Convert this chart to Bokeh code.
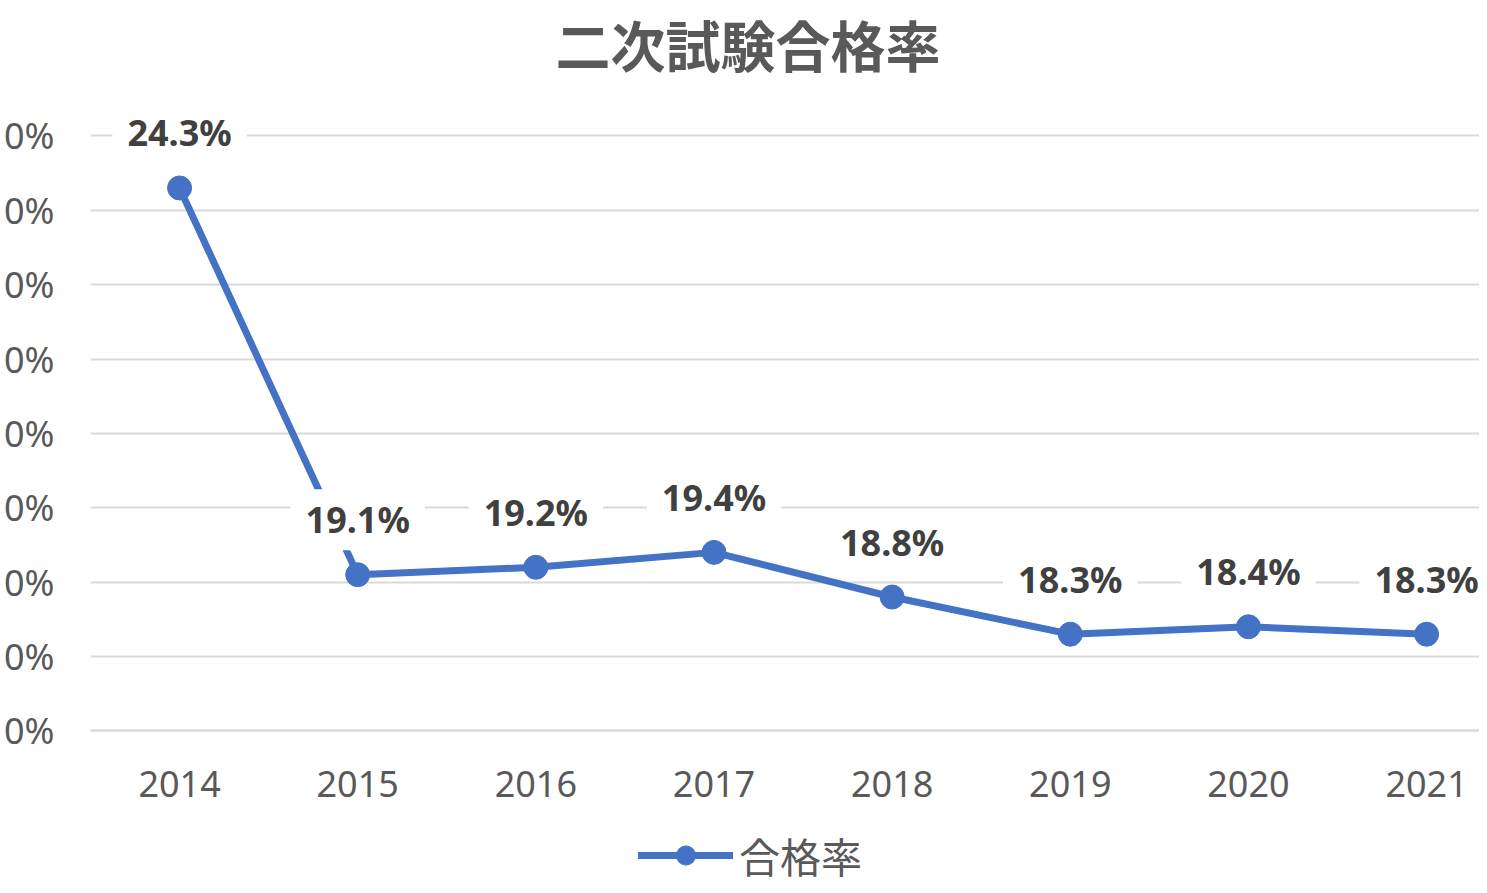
from bokeh.plotting import figure
from bokeh.models import Range1d, FixedTicker, Legend, LegendItem, Label
from bokeh.embed import file_html
from bokeh.resources import INLINE

# ---- data ----
years = ["2014", "2015", "2016", "2017", "2018", "2019", "2020", "2021"]
rates = [24.3, 19.1, 19.2, 19.4, 18.8, 18.3, 18.4, 18.3]
rate_labels = ["24.3%", "19.1%", "19.2%", "19.4%", "18.8%", "18.3%", "18.4%", "18.3%"]
y_ticks = [17, 18, 19, 20, 21, 22, 23, 24, 25]
y_tick_labels = ["0%", "0%", "0%", "0%", "0%", "0%", "0%", "0%", "0%"]
title_text = "二次試験合格率"
series_name = "合格率"

BLUE = "#4472C4"
GRAY = "#595959"
GRID = "#D9D9D9"
LATIN = "Noto Sans"
CJK = "Liberation Sans, Noto Sans CJK JP"

xs = list(range(len(years)))

p = figure(width=1479, height=885, output_backend="svg", toolbar_location=None,
           x_range=Range1d(-0.5, 7.297), y_range=Range1d(14.921, 25.5835),
           min_border_left=82, min_border_right=0, min_border_top=92, min_border_bottom=0)
p.outline_line_color = None
p.background_fill_color = "white"
p.border_fill_color = "white"

p.title.text = title_text
p.title.align = "left"
p.title.vertical_align = "top"
p.title.offset = 465
p.title.standoff = 23
p.title.text_font = CJK
p.title.text_font_size = "55px"
p.title.text_font_style = "bold"
p.title.text_color = GRAY

# axes
p.xaxis.fixed_location = 17
p.xaxis.ticker = FixedTicker(ticks=xs)
p.xaxis.major_label_overrides = {i: y for i, y in zip(xs, years)}
p.xaxis.axis_line_color = GRID
p.xaxis.axis_line_width = 2
p.xaxis.major_tick_line_color = None
p.xaxis.minor_tick_line_color = None
p.xaxis.major_label_text_font = LATIN
p.xaxis.major_label_text_font_size = "36px"
p.xaxis.major_label_text_color = GRAY
p.xaxis.major_label_standoff = 34

p.yaxis.ticker = FixedTicker(ticks=y_ticks)
p.yaxis.major_label_overrides = {t: l for t, l in zip(y_ticks, y_tick_labels)}
p.yaxis.axis_line_color = None
p.yaxis.major_tick_line_color = None
p.yaxis.minor_tick_line_color = None
p.yaxis.major_label_text_font = LATIN
p.yaxis.major_label_text_font_size = "36px"
p.yaxis.major_label_text_color = GRAY
p.yaxis.major_label_standoff = 30

p.xgrid.grid_line_color = None
p.ygrid.ticker = FixedTicker(ticks=y_ticks)
p.ygrid.grid_line_color = GRID
p.ygrid.grid_line_width = 2

line_r = p.line(xs, rates, line_color=BLUE, line_width=7, line_join="round", line_cap="round")
dot_r = p.scatter(xs, rates, size=24, fill_color=BLUE, line_color=BLUE)

for x, v, t in zip(xs, rates, rate_labels):
    p.add_layout(Label(x=x, y=v, text=t, y_offset=55, text_align="center",
                       text_baseline="middle", text_font=LATIN, text_font_size="36px",
                       text_font_style="bold", text_color="#404040",
                       background_fill_color="white", padding=(15, 6)))

legend = Legend(items=[LegendItem(label=series_name, renderers=[line_r, dot_r])],
                orientation="horizontal", location=(548, 0),
                border_line_color=None, background_fill_alpha=0,
                label_text_font=CJK, label_text_font_size="41px", label_text_color=GRAY,
                glyph_width=95, glyph_height=48, label_standoff=6, margin=0, padding=0)
p.add_layout(legend, "center")

open("out.html", "w").write(file_html(p, INLINE))
